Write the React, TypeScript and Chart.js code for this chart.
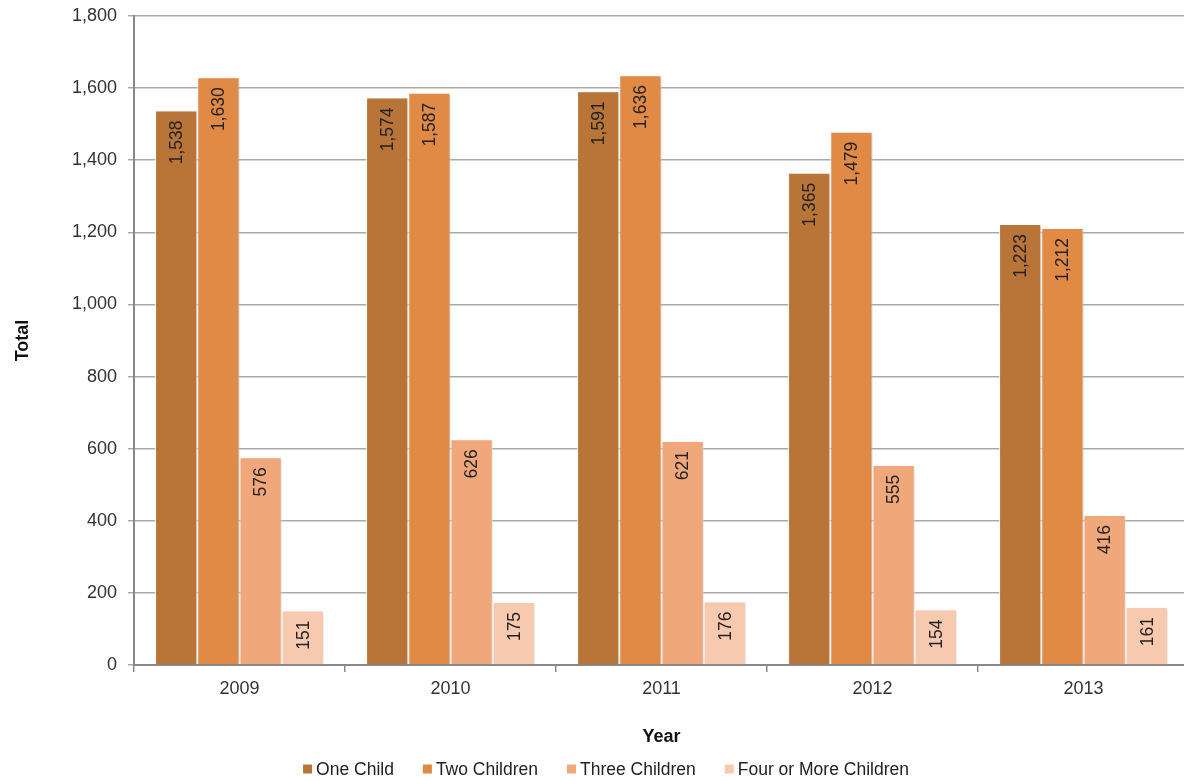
import React, { useEffect, useRef } from "react";
import { Chart, registerables } from "chart.js";

Chart.register(...registerables);

const years = ["2009", "2010", "2011", "2012", "2013"];
const oneChild = [1538, 1574, 1591, 1365, 1223];
const twoChildren = [1630, 1587, 1636, 1479, 1212];
const threeChildren = [576, 626, 621, 555, 416];
const fourOrMore = [151, 175, 176, 154, 161];
const seriesNames = ["One Child", "Two Children", "Three Children", "Four or More Children"];
const seriesColors = ["#B97437", "#E18A45", "#F0A87A", "#F7CAAF"];
const yTicks = [0, 200, 400, 600, 800, 1000, 1200, 1400, 1600, 1800];

const FONT = "'Liberation Sans', Arial, Helvetica, sans-serif";

const barLabels = {
  id: "barLabels",
  afterDatasetsDraw(chart: any) {
    const ctx = chart.ctx;
    ctx.save();
    ctx.font = `17.5px ${FONT}`;
    ctx.fillStyle = "#222";
    ctx.textAlign = "right";
    ctx.textBaseline = "middle";
    chart.data.datasets.forEach((ds: any, di: number) => {
      const meta = chart.getDatasetMeta(di);
      meta.data.forEach((bar: any, i: number) => {
        const v = ds.data[i] as number;
        ctx.save();
        ctx.translate(bar.x + 1, bar.y + 10);
        ctx.rotate(-Math.PI / 2);
        ctx.fillText(v.toLocaleString("en-US"), 0, 0);
        ctx.restore();
      });
    });
    ctx.restore();
  },
};

const barShadow = {
  id: "barShadow",
  beforeDatasetsDraw(chart: any) {
    const ctx = chart.ctx;
    ctx.save();
    ctx.shadowColor = "rgba(0,0,0,0.18)";
    ctx.shadowBlur = 3;
    ctx.shadowOffsetX = 1;
    ctx.shadowOffsetY = 1;
  },
  afterDatasetsDraw(chart: any) {
    chart.ctx.restore();
  },
};

const customLegend = {
  id: "customLegend",
  afterDraw(chart: any) {
    const ctx = chart.ctx;
    ctx.save();
    ctx.font = `17.5px ${FONT}`;
    ctx.textBaseline = "middle";
    ctx.textAlign = "left";
    const box = 9;
    const gapBoxText = 4;
    const gapItems = 29;
    const widths = seriesNames.map((n) => box + gapBoxText + ctx.measureText(n).width);
    const total = widths.reduce((a, b) => a + b, 0) + gapItems * (widths.length - 1);
    let x = 606 - total / 2;
    const y = 769;
    seriesNames.forEach((n, i) => {
      ctx.fillStyle = seriesColors[i];
      ctx.fillRect(x, y - box / 2, box, box);
      ctx.fillStyle = "#222";
      ctx.fillText(n, x + box + gapBoxText, y + 1);
      x += widths[i] + gapItems;
    });
    ctx.restore();
  },
};

export default function App() {
  const ref = useRef<HTMLCanvasElement>(null);
  useEffect(() => {
    if (!ref.current) return;
    const seriesData = [oneChild, twoChildren, threeChildren, fourOrMore];
    const chart = new Chart(ref.current, {
      type: "bar",
      data: {
        labels: years,
        datasets: seriesData.map((d, i) => ({
          label: seriesNames[i],
          data: d,
          backgroundColor: seriesColors[i],
          borderColor: "#ffffff",
          borderWidth: 1,
          categoryPercentage: 0.8,
          barPercentage: 1.0,
        })),
      },
      options: {
        responsive: false,
        animation: false,
        layout: { padding: { top: 16, right: 1, bottom: 0, left: 0 } },
        plugins: {
          legend: { display: false },
          tooltip: { enabled: false },
        },
        scales: {
          x: {
            grid: {
              drawOnChartArea: false,
              drawTicks: true,
              tickLength: 7,
              color: "#888",
              lineWidth: 1.5,
              offset: true,
            },
            border: { color: "#888", width: 2 },
            ticks: {
              color: "#333",
              font: { family: FONT, size: 18 },
              padding: 6,
            },
            title: {
              display: true,
              text: "Year",
              color: "#111",
              font: { family: FONT, size: 18, weight: "bold" },
              padding: { top: 0, bottom: 33 },
            },
            afterFit: (s: any) => {
              s.height = 116;
            },
          },
          y: {
            min: 0,
            max: 1800,
            afterBuildTicks: (s: any) => {
              s.ticks = yTicks.map((v) => ({ value: v }));
            },
            grid: {
              color: "#aaa",
              lineWidth: 1.5,
              tickLength: 6,
              drawTicks: true,
            },
            border: { color: "#888", width: 2 },
            ticks: {
              color: "#333",
              font: { family: FONT, size: 18 },
              padding: 11,
              callback: (v: any) => Number(v).toLocaleString("en-US"),
            },
            title: {
              display: true,
              text: "Total",
              color: "#111",
              font: { family: FONT, size: 18, weight: "bold" },
              padding: { top: 12, bottom: 0 },
            },
            afterFit: (s: any) => {
              s.width = 134;
              s.paddingTop = 0;
              s.paddingBottom = 0;
            },
          },
        },
      },
      plugins: [barShadow, barLabels, customLegend],
    });
    return () => chart.destroy();
  }, []);
  return (
    <div
      style={{
        position: "fixed",
        left: 0,
        top: 0,
        width: 1184,
        height: 781,
        overflow: "hidden",
        background: "#fff",
      }}
    >
      <canvas ref={ref} width={1190} height={781} style={{ display: "block" }} />
    </div>
  );
}
